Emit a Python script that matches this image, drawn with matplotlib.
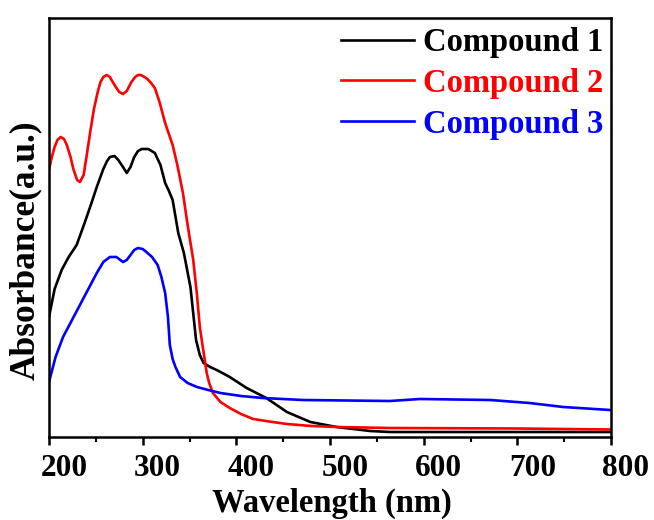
import matplotlib
matplotlib.use("Agg")
import matplotlib.pyplot as plt
import matplotlib.transforms as mtransforms
from matplotlib.ticker import MultipleLocator

plt.rcParams['font.family'] = ['Liberation Serif', 'DejaVu Serif']
plt.rcParams['font.weight'] = 'bold'

# UV-vis spectra (wavelength in nm, absorbance in a.u.)
wl_1 = [200, 206, 213.5, 221, 229.5, 238, 245, 251, 258, 262, 265, 270, 274, 279, 283, 287,
        291, 295, 299, 306, 313, 319, 324, 328, 332, 338, 344, 351, 357, 361, 365, 372,
        379, 393, 411, 432, 454, 479, 507, 543, 564, 650, 800]
abs_1 = [1.20, 1.48, 1.67, 1.80, 1.92, 2.14, 2.33, 2.50, 2.68, 2.76, 2.80, 2.81, 2.77, 2.70,
         2.64, 2.70, 2.80, 2.86, 2.88, 2.88, 2.84, 2.72, 2.54, 2.46, 2.37, 2.04, 1.84, 1.50,
         0.97, 0.82, 0.74, 0.70, 0.67, 0.60, 0.49, 0.39, 0.25, 0.15, 0.10, 0.06, 0.05, 0.05, 0.05]

wl_2 = [200, 203, 206, 209, 212.5, 216, 219, 223, 226, 230, 233, 237, 240, 244, 248, 252,
        255, 258, 261.6, 265, 268, 272, 275, 279, 283, 288, 292, 295, 298, 302, 305,
        309, 313, 318, 324, 332, 337, 343, 348, 354, 358, 361, 365, 368.4, 371, 375, 383,
        393, 405, 418, 435, 454, 480, 507, 564, 700, 800]
abs_2 = [2.67, 2.80, 2.90, 2.97, 3.00, 2.98, 2.92, 2.80, 2.68, 2.57, 2.55, 2.62, 2.80, 3.05,
         3.28, 3.45, 3.55, 3.60, 3.62, 3.60, 3.55, 3.49, 3.45, 3.43, 3.46, 3.55, 3.60, 3.62,
         3.62, 3.60, 3.58, 3.54, 3.49, 3.35, 3.14, 2.92, 2.72, 2.44, 2.12, 1.77, 1.42, 1.10,
         0.85, 0.64, 0.54, 0.44, 0.35, 0.29, 0.23, 0.18, 0.155, 0.13, 0.11, 0.10, 0.09, 0.085,
         0.075]

wl_3 = [200, 207, 215, 224, 233, 242, 251, 258, 265, 272, 279, 283, 287, 291, 295, 300, 304,
        310, 316, 320, 324, 327, 329, 332, 335, 340, 348, 358, 370, 383, 405, 428, 471,
        564, 596, 671, 713, 749, 799]
abs_3 = [0.55, 0.80, 1.00, 1.16, 1.32, 1.48, 1.64, 1.75, 1.80, 1.80, 1.75, 1.77, 1.82, 1.87,
         1.89, 1.88, 1.85, 1.80, 1.72, 1.60, 1.44, 1.20, 0.92, 0.78, 0.70, 0.60, 0.54, 0.50,
         0.47, 0.44, 0.41, 0.39, 0.37, 0.36, 0.38, 0.37, 0.34, 0.30, 0.27]

labels = ['Compound 1', 'Compound 2', 'Compound 3']
colors = ['black', '#FF0000', '#0000FF']

W, H = 654, 520
fig = plt.figure(figsize=(W / 100, H / 100), dpi=100)
ax = fig.add_axes([49 / W, 1 - 437 / H, (611 - 49) / W, (437 - 18) / H])

for x, y, lab, c in zip([wl_1, wl_2, wl_3], [abs_1, abs_2, abs_3], labels, colors):
    ax.plot(x, y, color=c, lw=1.9, label=lab)

ax.set_xlim(200, 800)
ax.set_ylim(0, 4.19)
ax.xaxis.set_major_locator(MultipleLocator(100))
ax.xaxis.set_minor_locator(MultipleLocator(50))
ax.set_yticks([])
for s in ax.spines.values():
    s.set_linewidth(1.8)
ax.tick_params(axis='x', which='major', direction='out', length=6, width=1.8,
               labelsize=22.5, pad=6)
ax.tick_params(axis='x', which='minor', direction='out', length=3.5, width=1.5)

# tick labels in the reference sit a little right of their ticks
shift = mtransforms.ScaledTranslation(15 / 100, 0, fig.dpi_scale_trans)
for lbl in ax.get_xticklabels():
    lbl.set_transform(lbl.get_transform() + shift)
    lbl.set_fontweight('bold')

fig.text(332 / W, 1 - 503 / H, 'Wavelength (nm)', ha='center', va='center',
         fontsize=23.5, fontweight='bold')
fig.text(25 / W, 1 - 250 / H, 'Absorbance(a.u.)', ha='center', va='center',
         rotation=90, fontsize=25.5, fontweight='bold')

leg = ax.legend(loc='upper right', bbox_to_anchor=(603 / W, 1 - 27 / H),
                bbox_transform=fig.transFigure, frameon=False, fontsize=23.5,
                handlelength=2.25, handletextpad=0.25, labelspacing=0.3,
                borderpad=0, borderaxespad=0)
for txt, c in zip(leg.get_texts(), colors):
    txt.set_color(c)
    txt.set_fontweight('bold')

fig.savefig('out.png', dpi=100)
